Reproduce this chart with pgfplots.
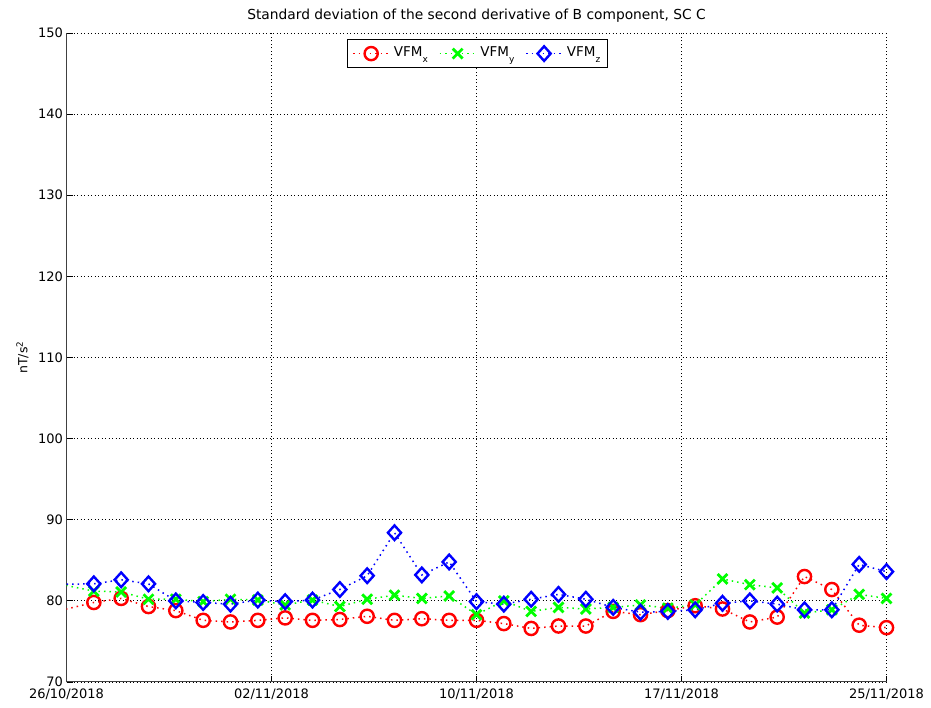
\documentclass[border=0pt]{standalone}
\usepackage{fontspec}
\setmainfont{DejaVu Sans}
\usepackage{pgfplots}
\usepackage{pgfplotstable}
\pgfplotsset{compat=1.18}
\pgfplotstableread{
x  r     g     b
-1 78.2  82.6  82.0
1  79.8  81.2  82.1
2  80.3  81.1  82.6
3  79.3  80.2  82.1
4  78.8  80.2  80.0
5  77.6  79.9  79.8
6  77.4  80.2  79.6
7  77.6  80.1  80.1
8  77.9  79.5  79.9
9  77.6  80.1  80.1
10 77.7  79.3  81.4
11 78.1  80.2  83.1
12 77.6  80.7  88.4
13 77.8  80.3  83.2
14 77.6  80.6  84.8
15 77.6  78.3  79.9
16 77.2  80.0  79.6
17 76.6  78.7  80.2
18 76.9  79.2  80.8
19 76.9  79.0  80.2
20 78.7  79.2  79.2
21 78.3  79.5  78.6
22 78.8  79.1  78.7
23 79.4  79.5  78.9
24 79.0  82.7  79.7
25 77.4  82.0  80.0
26 78.0  81.6  79.6
27 83.0  78.5  78.9
28 81.4  78.9  78.9
29 77.0  80.8  84.5
30 76.7  80.3  83.6
}\data
\newcommand{\vfm}[1]{\raisebox{3pt}{VFM\raisebox{-6pt}{\fontsize{9}{10}\selectfont #1}}}
\begin{document}
\begin{tikzpicture}
\begin{axis}[
  scale only axis,
  width=820pt, height=649pt,
  xmin=0, xmax=30, ymin=70, ymax=150,
  xtick={0,7.5,15,22.5,30},
  xticklabels={26/10/2018,02/11/2018,10/11/2018,17/11/2018,25/11/2018},
  ytick={70,80,...,150},
  axis x line*=bottom, axis y line*=left,
  tick align=inside, major tick length=6pt,
  tick style={black, line width=0.8pt},
  axis line style={black!75, line width=1pt},
  grid=major,
  major grid style={black, line width=0.8pt, dash pattern=on 1pt off 2.5pt},
  /pgf/number format/assume math mode=true,
  tick label style={font=\fontsize{13}{15}\selectfont},
  xticklabel style={yshift=-3pt},
  ylabel={nT/s\textsuperscript{2}},
  ylabel style={font=\fontsize{12.5}{14}\selectfont, at={(axis description cs:-0.0537,0.5)}, anchor=center},
  title={Standard deviation of the second derivative of B component, SC C},
  title style={font=\fontsize{13.8}{15}\selectfont, at={(axis description cs:0.5,1)}, anchor=center, yshift=11pt},
  legend columns=3,
  legend style={at={(0.501,0.991)}, anchor=north, draw=black, line width=1.2pt,
    font=\fontsize{13.5}{15}\selectfont, inner xsep=5pt, inner ysep=5pt,
    /tikz/every odd column/.append style={column sep=2pt},
    /tikz/every even column/.append style={column sep=9pt}},
  legend image code/.code={\draw[#1] (0pt,0pt) -- (36pt,0pt);
    \draw[#1, solid] plot coordinates {(18pt,0pt)};},
  clip=true,
]
\addplot[red, line width=1.5pt, dash pattern=on 1.5pt off 4pt, mark=o, mark size=6.6pt,
  mark phase=1, mark repeat=1, mark options={solid, line width=2.4pt}]
  table[x=x, y=r]{\data};
\addlegendentry{\vfm{x}}
\addplot[green, line width=1.5pt, dash pattern=on 1.5pt off 4pt, mark=x, mark size=7pt,
  mark phase=1, mark repeat=1, mark options={solid, line width=2.8pt}]
  table[x=x, y=g]{\data};
\addlegendentry{\vfm{y}}
\addplot[blue, line width=1.5pt, dash pattern=on 1.5pt off 4pt, mark=diamond, mark size=7.3pt,
  mark phase=1, mark repeat=1, mark options={solid, line width=2.4pt, xscale=1.2}]
  table[x=x, y=b]{\data};
\addlegendentry{\vfm{z}}
\coordinate (bl) at (rel axis cs:0,0);
\coordinate (tr) at (rel axis cs:1,1);
\end{axis}
\pgfresetboundingbox
\path ([shift={(-66.5pt,-26pt)}]bl) rectangle ([shift={(44.5pt,33pt)}]tr);
\end{tikzpicture}
\end{document}
